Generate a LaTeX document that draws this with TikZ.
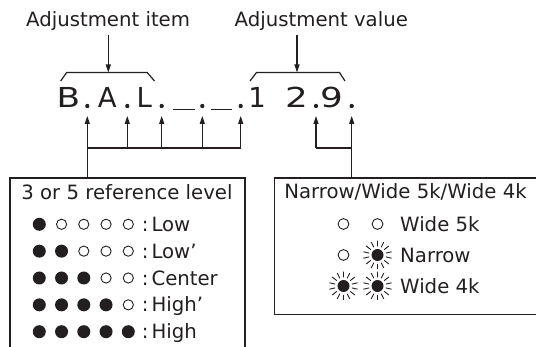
\documentclass[tikz,border=0pt]{standalone}
\usepackage{fontspec}
\setmainfont{DejaVu Sans}
\usetikzlibrary{arrows.meta}
\definecolor{ink}{HTML}{231F20}
\newcommand\flashled[2]{%
  \node[flashdisc] (#1) at #2 {};
  \foreach \ang in {0,...,13} {
    \draw[ink, line width=0.9pt] (#1.center) ++({90+\ang*25.714}:8.6) -- ++({90+\ang*25.714}:5.8);
  }%
}
\begin{document}
\begin{tikzpicture}[x=1pt,y=-1pt,
  lbl/.style={font=\fontsize{19.7}{22}\selectfont, text=ink, inner sep=0pt},
  disp/.style={font=\fontsize{27.5}{30}\selectfont, text=ink, inner sep=0pt, anchor=base},
  dotn/.style={circle, fill=ink, inner sep=0pt, minimum size=4.3pt},
  bar/.style={fill=ink, inner sep=0pt, minimum height=1.4pt},
  conn/.style={draw=ink, line width=1.2pt},
  arr/.style={conn, -{Triangle[length=8pt,width=5pt]}},
  onled/.style={circle, fill=ink, inner sep=0pt, minimum size=13pt},
  offled/.style={circle, draw=ink, line width=0.9pt, inner sep=0pt, minimum size=10.2pt},
  offledr/.style={circle, draw=ink, line width=0.9pt, inner sep=0pt, minimum size=10.8pt},
  flashdisc/.style={circle, fill=ink, inner sep=0pt, minimum size=12pt},
  boxn/.style={draw=ink, line width=1.2pt, inner sep=0pt, anchor=north west}
]
\useasboundingbox (0,0) rectangle (536,347);
\clip (0,0) rectangle (536,347);

% top labels
\node[lbl, anchor=base] (ai) at (108.1,27) {Adjustment item};
\node[lbl, anchor=base] (av) at (321.3,27) {Adjustment value};
\coordinate (brl) at (108.3,72.5);
\coordinate (brr) at (297,72.5);
\draw[conn] (60.7,81) -- (66.6,72.5) -- (147.2,72.5) -- (154.5,81);
\draw[conn] (250,81) -- (256.5,72.5) -- (339.5,72.5) -- (345,81);
\draw[arr, shorten <=4pt] (ai.south -| brl) -- (brl);
\draw[arr, shorten <=4pt] (av.south -| brr) -- (brr);

% display
\node[disp] (cB) at (68.3,107.3) {\scalebox{1.25}[1]{B}};
\node[disp] (cA) at (107.2,107.3) {A};
\node[disp] (cL) at (144.4,107.3) {L};
\node[disp] (c1) at (257,107.3) {1};
\node[disp] (c2) at (296.5,107.3) {\scalebox{1.3}[1]{2}};
\node[disp] (c9) at (331.5,107.3) {\scalebox{1.3}[1]{9}};
\node[dotn] (d1) at (87.3,106) {};
\node[dotn] (d2) at (127.3,106) {};
\node[dotn] (d3) at (161.7,106) {};
\node[dotn] (d4) at (202.3,106) {};
\node[dotn] (d5) at (240.7,106) {};
\node[dotn] (d6) at (316,106) {};
\node[dotn] (d7) at (351.7,106) {};
\node[bar, minimum width=22pt] (u1) at (183.5,109.5) {};
\node[bar, minimum width=21pt] (u2) at (221.5,109.5) {};

% boxes
\node[boxn, minimum width=235pt, minimum height=195pt] (lbox) at (9.3,177.5) {};
\node[boxn, minimum width=285pt, minimum height=136.5pt] (rbox) at (274,177.5) {};

% connectors
\coordinate (hl) at (0,148);
\draw[conn] (d1 |- lbox.north) -- (d1 |- hl) -- (d5 |- hl);
\draw[conn] (d7 |- rbox.north) -- (d7 |- hl) -- (d6 |- hl);
\foreach \d in {d1,d2,d3,d4,d5,d6,d7} {
  \draw[arr, shorten >=10pt] (\d |- hl) -- (\d.center);
}

% left box content
\node[lbl, anchor=base] (ltitle) at (127,200) {3 or 5 reference level};
\foreach \r/\t in {1/Low, 2/Low’, 3/Center, 4/High’, 5/High} {
  \pgfmathsetmacro\yy{224.3+26.85*(\r-1)}
  \pgfmathsetmacro\yb{\yy+7.1}
  \foreach \c in {1,...,5} {
    \pgfmathsetmacro\xx{39.3+22.25*(\c-1)}
    \ifnum\c>\r
      \node[offled] (L\r\c) at (\xx,\yy) {};
    \else
      \node[onled] (L\r\c) at (\xx,\yy) {};
    \fi
  }
  \node[lbl, anchor=base west] (T\r) at (141.7,\yb) {:\hspace{3pt}\t};
}

% right box content
\node[lbl, anchor=base] (rtitle) at (405.5,198.3) {Narrow/Wide 5k/Wide 4k};
\node[offledr] (r11) at (343.5,224) {};
\node[offledr] (r12) at (377.5,224) {};
\node[offledr] (r21) at (343.5,255) {};
\flashled{r22}{(377.5,255)}
\flashled{r31}{(343.5,286)}
\flashled{r32}{(377.5,286)}
\node[lbl, anchor=base west] (w5) at (400,231.1) {Wide 5k};
\node[lbl, anchor=base west] (nw) at (400,262.1) {Narrow};
\node[lbl, anchor=base west] (w4) at (400,293.1) {Wide 4k};
\end{tikzpicture}
\end{document}
